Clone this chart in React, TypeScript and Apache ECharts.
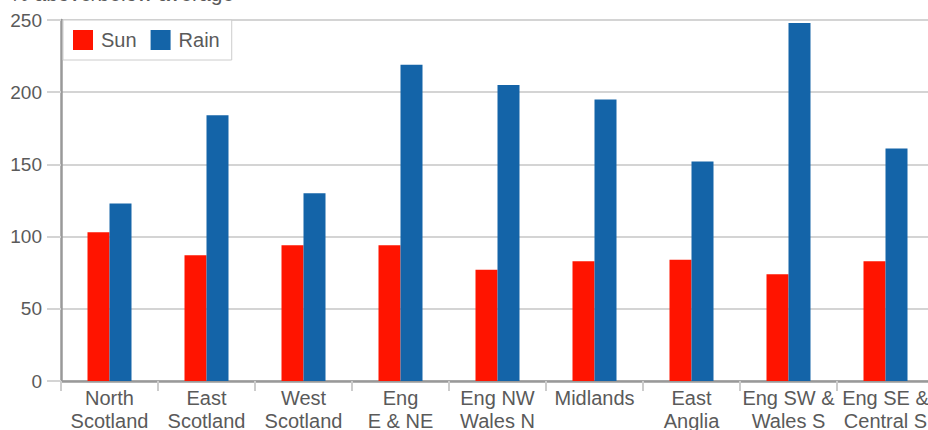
import React, { useEffect, useRef } from "react";
import * as echarts from "echarts";

const categories = [
  "North\nScotland",
  "East\nScotland",
  "West\nScotland",
  "Eng\nE & NE",
  "Eng NW\nWales N",
  "Midlands",
  "East\nAnglia",
  "Eng SW &\nWales S",
  "Eng SE &\nCentral S",
];
const sunValues = [103, 87, 94, 94, 77, 83, 84, 74, 83];
const rainValues = [123, 184, 130, 219, 205, 195, 152, 248, 161];
const yTicks = { min: 0, max: 250, interval: 50 };
const titleText = "% above/below average";

export default function App() {
  const ref = useRef<HTMLDivElement>(null);
  useEffect(() => {
    document.body.style.margin = "0";
    const chart = echarts.init(ref.current!, null, { renderer: "svg" });
    const font = "'Liberation Sans', Arial, sans-serif";
    chart.setOption({
      animation: false,
      backgroundColor: "#ffffff",
      textStyle: { fontFamily: font },
      graphic: [
        {
          type: "text",
          left: 10,
          top: -17,
          style: { text: titleText, fontSize: 21, fill: "#5a5a5a", fontFamily: font },
        },
      ],
      legend: {
        left: 63,
        top: 20,
        padding: [10, 12, 10, 10],
        itemWidth: 20,
        itemHeight: 20,
        itemGap: 14,
        backgroundColor: "#fff",
        borderColor: "#cccccc",
        borderWidth: 1,
        icon: "rect",
        textStyle: { fontSize: 20, color: "#5a5a5a", fontFamily: font, padding: [0, 0, 0, 3] },
        data: ["Sun", "Rain"],
      },
      grid: {
        left: 61,
        top: 20,
        width: 873,
        height: 361,
        containLabel: false,
        outerBoundsMode: "none",
      },
      xAxis: {
        type: "category",
        data: categories,
        axisLine: { show: true, lineStyle: { color: "#999", width: 2.5 } },
        axisTick: { show: true, length: 10, lineStyle: { color: "#ccc", width: 2 } },
        axisLabel: {
          fontSize: 20,
          color: "#5a5a5a",
          lineHeight: 23.5,
          margin: 5,
          interval: 0,
          fontFamily: font,
        },
      },
      yAxis: {
        type: "value",
        min: yTicks.min,
        max: yTicks.max,
        interval: yTicks.interval,
        axisLine: { show: true, lineStyle: { color: "#999", width: 2.5 } },
        axisTick: { show: true, length: 14, lineStyle: { color: "#d4d4d4", width: 2 } },
        splitLine: { show: true, lineStyle: { color: "#d4d4d4", width: 2 } },
        axisLabel: { fontSize: 19, color: "#5a5a5a", margin: 19, fontFamily: font },
      },
      series: [
        {
          name: "Sun",
          type: "bar",
          data: sunValues,
          barWidth: 22,
          barGap: "0%",
          itemStyle: { color: "#ff1400" },
        },
        {
          name: "Rain",
          type: "bar",
          data: rainValues,
          barWidth: 22,
          itemStyle: { color: "#1464a8" },
        },
      ],
    });
    return () => chart.dispose();
  }, []);
  return (
    <div
      ref={ref}
      style={{ position: "fixed", left: 0, top: 0, width: 928, height: 430 }}
    />
  );
}
